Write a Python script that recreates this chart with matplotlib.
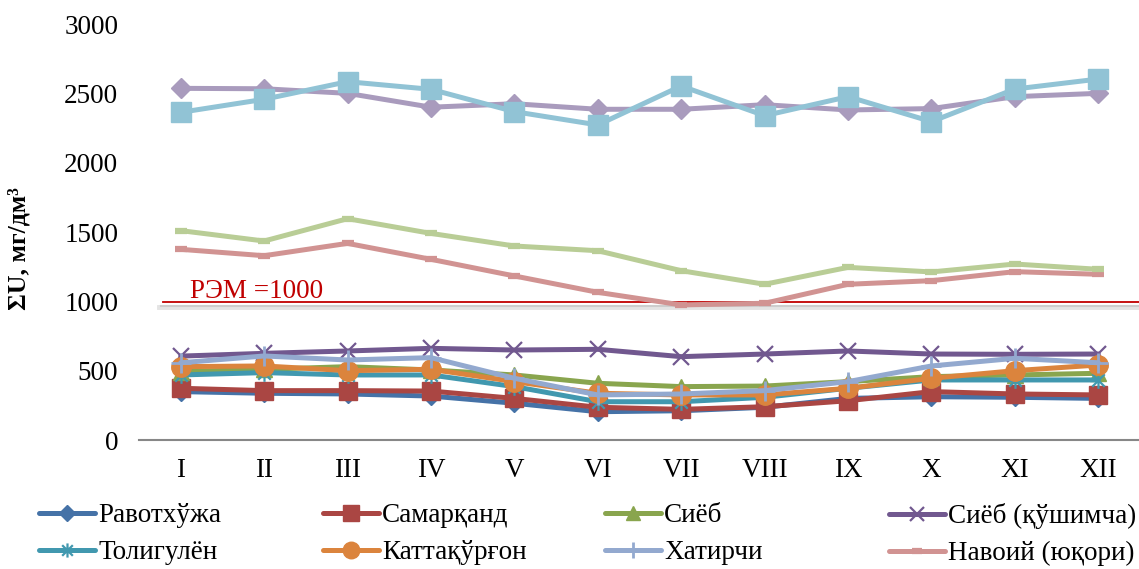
import matplotlib
matplotlib.use("Agg")
import matplotlib.pyplot as plt
from matplotlib.path import Path

plt.rcParams['font.family'] = ['Liberation Serif', 'DejaVu Serif']

months = ["I", "II", "III", "IV", "V", "VI", "VII", "VIII", "IX", "X", "XI", "XII"]

ravotkhuja   = [349, 337, 332, 317, 265, 204, 211, 236, 300, 312, 308, 300]
samarkand    = [373, 356, 356, 353, 300, 236, 221, 240, 283, 349, 332, 325]
siyob        = [493, 510, 529, 505, 469, 409, 385, 389, 421, 457, 469, 481]
siyob_q      = [605, 625, 642, 661, 649, 654, 601, 620, 642, 620, 618, 620]
toligulen    = [469, 486, 469, 469, 385, 276, 276, 308, 373, 433, 433, 433]
kattakurgon  = [529, 534, 500, 510, 421, 337, 325, 325, 373, 445, 500, 541]
khatirchi    = [557, 606, 577, 594, 445, 325, 332, 356, 421, 534, 589, 557]
navoiy_yuq   = [1375, 1329, 1418, 1303, 1183, 1065, 974, 986, 1123, 1149, 1214, 1195]
series_9     = [1510, 1435, 1596, 1490, 1399, 1365, 1221, 1123, 1245, 1212, 1269, 1231]
series_10    = [2536, 2533, 2500, 2400, 2425, 2385, 2385, 2418, 2380, 2390, 2476, 2500]
series_11    = [2363, 2457, 2584, 2529, 2368, 2272, 2553, 2339, 2476, 2296, 2531, 2603]

labels = ["Равотхўжа", "Самарқанд", "Сиёб", "Сиёб (қўшимча)",
          "Толигулён", "Каттақўрғон", "Хатирчи", "Навоий (юқори)"]

REM = 1000
rem_label = "РЭМ =1000"

star = Path([(0, -1), (0, 1), (-0.75, -0.75), (0.75, 0.75), (-0.75, 0.75), (0.75, -0.75)],
            [Path.MOVETO, Path.LINETO, Path.MOVETO, Path.LINETO, Path.MOVETO, Path.LINETO])

styles = [
    (ravotkhuja,  "#4572A7", dict(marker="D", ms=9.5)),
    (samarkand,   "#AA4643", dict(marker="s", ms=13)),
    (siyob,       "#89A54E", dict(marker="^", ms=12)),
    (siyob_q,     "#71588F", dict(marker="x", ms=12, mew=1.6)),
    (toligulen,   "#4198AF", dict(marker=star, ms=12, mew=1.6)),
    (kattakurgon, "#DB843D", dict(marker="o", ms=14)),
    (khatirchi,   "#93A9CF", dict(marker="+", ms=14, mew=2.0)),
    (navoiy_yuq,  "#D19392", dict(marker="_", ms=8, mew=4.5)),
    (series_9,    "#B9CD96", dict(marker="_", ms=8, mew=4.5)),
    (series_10,   "#A99BBD", dict(marker="D", ms=10)),
    (series_11,   "#91C3D5", dict(marker="s", ms=14)),
]

FS = 19.5

fig = plt.figure(figsize=(11.39, 5.69), dpi=100)
ax = fig.add_axes([139/1139, 1 - 440/569, 1001/1139, 416/569])

x = list(range(len(months)))
handles = []
for vals, col, st in styles:
    h, = ax.plot(x, vals, color=col, lw=3.6, mfc=col, mec=col,
                 solid_joinstyle="round", solid_capstyle="round", **st)
    handles.append(h)

# РЭМ line with soft shadow
ax.axhline(REM - 39, xmin=0.020, xmax=1, color="#e4e4e4", lw=3.5, zorder=1)
ax.axhline(REM - 33, xmin=0.022, xmax=1, color="#cdcdcd", lw=1.5, zorder=1.1)
ax.axhline(REM - 7, xmin=0.024, xmax=1, color="#C00000", lw=1.3, zorder=1.5)
ax.text(0.051, REM + 22, rem_label, transform=ax.get_yaxis_transform(),
        color="#C00000", fontsize=FS, va="baseline", ha="left")

ax.set_xlim(-0.5, 11.5)
ax.set_ylim(0, 3000)
ax.set_yticks([0, 500, 1000, 1500, 2000, 2500, 3000])
ax.set_xticks(x)
ax.set_xticklabels(months)
ax.tick_params(axis="both", length=0, labelsize=FS)
ax.tick_params(axis="y", pad=15)
ax.tick_params(axis="x", pad=13)
for s in ["top", "right", "left"]:
    ax.spines[s].set_visible(False)
ax.spines["bottom"].set_color("#878787")
ax.spines["bottom"].set_linewidth(1.5)

ax.set_ylabel("ΣU, мг/дм³", fontsize=18.5, fontweight="bold")
ax.yaxis.set_label_coords(-0.108, 0.46)

col_x = [39, 323, 605, 889]
for c in range(4):
    hh = [handles[c], handles[c + 4]]
    ll = [labels[c], labels[c + 4]]
    fig.legend(hh, ll, loc="upper left",
               bbox_to_anchor=(col_x[c] / 1139, 1 - 503 / 569),
               frameon=False, fontsize=FS, handlelength=2.07,
               handletextpad=0.11, borderpad=0, borderaxespad=0,
               labelspacing=0.45, markerscale=0.85)

fig.savefig("out.png", dpi=100)
